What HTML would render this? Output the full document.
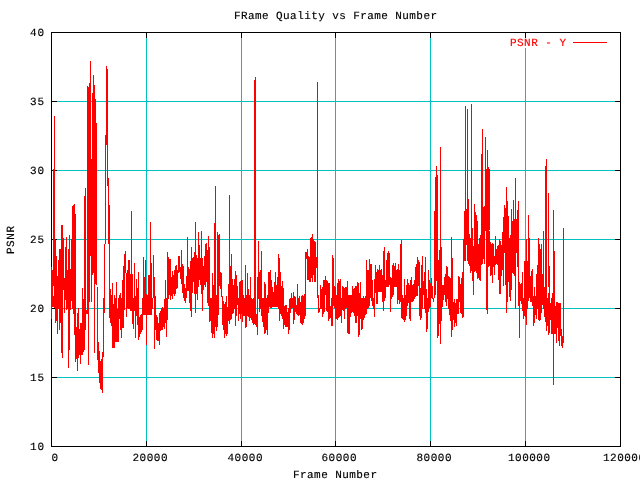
<!DOCTYPE html>
<html><head><meta charset="utf-8"><title>FRame Quality vs Frame Number</title>
<style>html,body{margin:0;padding:0;background:#fff;overflow:hidden}svg{display:block}</style></head>
<body>
<svg width="640" height="480" viewBox="0 0 640 480" shape-rendering="crispEdges">
<rect width="640" height="480" fill="#fff"/>
<path d="M52 377.5H620M52 308.5H620M52 239.5H620M52 170.5H620M52 101.5H620M146.5 33V446M241.5 33V446M335.5 33V446M430.5 33V446M525.5 33V36M525.5 48V446" stroke="#00c0c0" stroke-width="1" fill="none"/>
<path d="M51.5 32.5H620.5V446.5H51.5ZM52 377.5h5M620 377.5h-5M52 308.5h5M620 308.5h-5M52 239.5h5M620 239.5h-5M52 170.5h5M620 170.5h-5M52 101.5h5M620 101.5h-5M146.5 446v-5M146.5 33v5M241.5 446v-5M241.5 33v5M335.5 446v-5M335.5 33v5M430.5 446v-5M430.5 33v5M525.5 446v-5M525.5 33v5" stroke="#000" stroke-width="1" fill="none"/>
<path d="M51.5 267V319M52.5 270V307M53.5 169V286M53.5 296V307M54.5 116V308M55.5 240V323M56.5 256V321M57.5 276V334M58.5 260V309M59.5 249V330M60.5 249V323M61.5 225V353M62.5 225V358M63.5 238V290M64.5 278V313M65.5 247V300M66.5 237V310M67.5 270V309M68.5 249V368M69.5 235V350M70.5 269V310M71.5 239V301M72.5 206V309M73.5 205V314M74.5 204V335M75.5 214V362M76.5 327V359M77.5 313V371M78.5 308V358M79.5 329V355M80.5 323V364M81.5 323V355M82.5 288V355M83.5 299V352M84.5 196V350M85.5 188V330M86.5 310V314M87.5 86V314M88.5 87V365M89.5 83V302M90.5 61V256M91.5 159V302M92.5 93V275M93.5 75V273M94.5 85V353M95.5 99V284M96.5 123V285M97.5 287V360M98.5 342V373M99.5 351V383M100.5 361V389M101.5 359V390M102.5 352V393M103.5 298V357M104.5 244V313M105.5 135V244M106.5 66V145M107.5 69V186M108.5 178V244M109.5 205V318M110.5 289V323M111.5 295V326M112.5 283V348M113.5 304V348M114.5 295V348M115.5 298V342M116.5 282V342M117.5 309V342M118.5 298V342M119.5 295V319M120.5 293V330M121.5 298V338M122.5 280V328M123.5 266V328M124.5 254V310M125.5 251V273M126.5 273V317M127.5 270V308M128.5 260V309M129.5 260V309M130.5 274V311M131.5 211V311M132.5 274V324M133.5 298V329M134.5 263V311M135.5 296V338M136.5 279V316M137.5 288V325M138.5 272V340M139.5 317V337M140.5 315V334M141.5 314V332M142.5 298V330M143.5 257V315M144.5 277V315M145.5 260V315M146.5 294V345M147.5 295V315M148.5 275V315M149.5 275V315M150.5 222V315M151.5 263V315M152.5 298V309M153.5 255V298M154.5 277V349M155.5 296V330M156.5 315V340M157.5 317V341M158.5 323V341M159.5 313V345M160.5 311V331M161.5 308V330M162.5 307V330M163.5 308V327M164.5 299V329M165.5 280V323M166.5 298V337M167.5 252V320M168.5 257V299M169.5 259V295M170.5 259V300M171.5 277V296M172.5 271V299M173.5 275V294M174.5 270V296M175.5 266V294M176.5 265V289M177.5 270V288M178.5 256V273M179.5 256V272M180.5 267V279M181.5 250V284M182.5 264V293M183.5 266V298M184.5 284V301M185.5 288V303M186.5 276V298M187.5 237V291M188.5 267V291M189.5 269V303M190.5 261V311M191.5 247V317M192.5 258V293M193.5 257V282M194.5 252V294M195.5 222V313M196.5 255V294M197.5 258V300M198.5 232V287M199.5 245V280M200.5 258V285M201.5 231V294M202.5 258V311M203.5 266V290M204.5 256V285M205.5 244V287M206.5 243V282M207.5 250V303M208.5 236V306M209.5 247V322M210.5 298V321M211.5 298V333M212.5 273V338M213.5 285V334M214.5 223V338M215.5 186V327M216.5 295V331M217.5 232V327M218.5 235V315M219.5 234V286M220.5 272V289M221.5 273V297M222.5 296V325M223.5 301V330M224.5 304V338M225.5 302V334M226.5 296V336M227.5 307V334M228.5 284V321M229.5 195V324M230.5 266V320M231.5 254V319M232.5 279V314M233.5 285V313M234.5 279V309M235.5 271V326M236.5 275V316M237.5 286V305M238.5 298V321M239.5 282V314M240.5 281V319M241.5 280V314M242.5 280V322M243.5 295V316M244.5 298V316M245.5 265V328M246.5 295V327M247.5 273V316M248.5 289V317M249.5 295V321M250.5 277V318M251.5 298V320M252.5 299V323M253.5 298V325M254.5 80V324M255.5 77V325M256.5 314V327M257.5 277V335M258.5 241V299M259.5 272V312M260.5 270V309M261.5 251V316M262.5 298V322M263.5 298V327M264.5 282V334M265.5 284V333M266.5 298V330M267.5 295V335M268.5 272V313M269.5 272V307M270.5 270V308M271.5 280V308M272.5 287V307M273.5 292V307M274.5 282V307M275.5 272V307M276.5 285V307M277.5 277V307M278.5 254V309M279.5 258V321M280.5 272V314M281.5 286V316M282.5 281V319M283.5 288V329M284.5 306V325M285.5 305V327M286.5 305V327M287.5 312V327M288.5 308V334M289.5 299V330M290.5 298V313M291.5 293V309M292.5 298V308M293.5 292V324M294.5 296V320M295.5 297V312M296.5 305V314M297.5 284V315M298.5 298V316M299.5 296V315M300.5 302V323M301.5 296V324M302.5 295V325M303.5 296V323M304.5 294V319M305.5 252V316M306.5 252V259M307.5 249V280M308.5 256V280M309.5 257V282M310.5 238V282M311.5 237V278M312.5 234V282M313.5 239V275M314.5 241V282M315.5 242V282M316.5 257V268M317.5 82V298M318.5 295V313M319.5 308V312M320.5 285V309M321.5 289V309M322.5 287V317M323.5 280V314M324.5 280V312M325.5 276V295M326.5 280V311M327.5 281V312M328.5 283V321M329.5 283V319M330.5 306V318M331.5 298V326M332.5 255V326M333.5 258V306M334.5 286V308M335.5 287V319M336.5 295V319M337.5 283V320M338.5 279V318M339.5 281V317M340.5 279V316M341.5 298V323M342.5 286V310M343.5 287V311M344.5 288V319M345.5 287V309M346.5 287V308M347.5 281V333M348.5 295V334M349.5 295V334M350.5 295V317M351.5 295V313M352.5 286V312M353.5 289V313M354.5 288V316M355.5 286V323M356.5 286V323M357.5 282V316M358.5 283V337M359.5 293V335M360.5 282V319M361.5 298V330M362.5 298V329M363.5 296V320M364.5 298V318M365.5 296V315M366.5 260V314M367.5 270V309M368.5 270V308M369.5 259V306M370.5 264V298M371.5 264V301M372.5 280V306M373.5 298V309M374.5 279V317M375.5 265V293M376.5 272V304M377.5 269V304M378.5 270V292M379.5 265V292M380.5 270V292M381.5 269V292M382.5 275V302M383.5 251V311M384.5 247V301M385.5 280V298M386.5 260V287M387.5 253V287M388.5 251V287M389.5 253V285M390.5 277V312M391.5 278V299M392.5 265V297M393.5 263V295M394.5 266V287M395.5 263V287M396.5 270V287M397.5 269V304M398.5 264V300M399.5 270V304M400.5 244V302M401.5 240V318M402.5 295V319M403.5 298V320M404.5 279V322M405.5 295V320M406.5 285V316M407.5 279V306M408.5 283V303M409.5 285V319M410.5 280V321M411.5 277V302M412.5 285V302M413.5 284V301M414.5 280V299M415.5 267V297M416.5 264V296M417.5 257V296M418.5 260V286M419.5 262V316M420.5 288V320M421.5 265V318M422.5 256V309M423.5 281V295M424.5 272V309M425.5 257V313M426.5 289V332M427.5 298V329M428.5 270V312M429.5 280V308M430.5 283V307M431.5 278V298M432.5 286V299M433.5 298V302M434.5 211V298M435.5 177V295M436.5 166V281M437.5 175V338M438.5 260V336M439.5 250V324M440.5 147V344M441.5 247V321M442.5 285V307M443.5 285V300M444.5 277V295M445.5 274V302M446.5 266V306M447.5 267V299M448.5 276V309M449.5 277V315M450.5 278V321M451.5 237V337M452.5 258V330M453.5 302V320M454.5 299V327M455.5 303V323M456.5 299V326M457.5 299V314M458.5 276V314M459.5 277V302M460.5 284V313M461.5 278V314M462.5 272V318M463.5 239V317M464.5 211V261M465.5 106V261M466.5 209V245M467.5 109V261M468.5 199V264M469.5 234V266M470.5 238V273M471.5 104V271M472.5 228V281M473.5 246V295M474.5 204V272M475.5 212V271M476.5 215V273M477.5 221V279M478.5 244V278M479.5 238V280M480.5 235V281M481.5 154V265M482.5 129V264M483.5 207V259M484.5 206V264M485.5 137V231M486.5 169V310M487.5 150V314M488.5 167V267M489.5 169V230M489.5 231V266M490.5 242V276M491.5 244V275M492.5 243V283M493.5 244V267M494.5 256V275M495.5 236V265M496.5 249V264M497.5 246V265M498.5 245V280M499.5 239V294M500.5 241V294M501.5 245V276M502.5 232V270M503.5 217V286M504.5 205V253M505.5 208V285M506.5 187V313M507.5 201V302M508.5 216V282M509.5 238V297M510.5 235V301M511.5 209V290M512.5 221V273M513.5 200V274M514.5 219V276M515.5 178V309M516.5 219V253M517.5 210V267M518.5 201V306M519.5 282V338M520.5 284V301M521.5 283V304M522.5 272V311M523.5 298V319M524.5 261V316M525.5 261V317M526.5 239V325M527.5 261V309M528.5 215V301M529.5 238V298M530.5 276V302M531.5 271V302M532.5 269V306M533.5 296V326M534.5 287V323M535.5 296V315M536.5 274V319M537.5 265V309M538.5 238V320M539.5 244V321M540.5 249V320M541.5 244V313M542.5 274V305M543.5 231V309M544.5 287V317M545.5 166V322M546.5 159V331M547.5 298V326M548.5 193V287M548.5 293V335M549.5 266V333M550.5 303V320M551.5 298V334M552.5 293V334M553.5 210V385M554.5 251V334M555.5 306V334M556.5 302V343M557.5 302V328M558.5 303V341M559.5 303V346M560.5 303V336M561.5 329V346M562.5 336V348M563.5 228V343" stroke="#f00" stroke-width="1" fill="none"/>
<path d="M573 42.5H607" stroke="#f00" stroke-width="1"/>
<g font-family="'Liberation Mono',monospace" font-size="11px" fill="#000" stroke="#000" stroke-width="0.15" shape-rendering="auto" text-rendering="geometricPrecision">
<text x="234" y="19" textLength="203" lengthAdjust="spacing">FRame Quality vs Frame Number</text>
<text x="293" y="478" textLength="84" lengthAdjust="spacing">Frame Number</text>
<text x="510" y="46" textLength="56" lengthAdjust="spacing" fill="#f00" stroke="#f00">PSNR - Y</text>
<text transform="translate(14 254) rotate(-90)" textLength="28" lengthAdjust="spacing">PSNR</text>
<text x="44" y="450" text-anchor="end" textLength="14" lengthAdjust="spacing">10</text>
<text x="44" y="381" text-anchor="end" textLength="14" lengthAdjust="spacing">15</text>
<text x="44" y="312" text-anchor="end" textLength="14" lengthAdjust="spacing">20</text>
<text x="44" y="243" text-anchor="end" textLength="14" lengthAdjust="spacing">25</text>
<text x="44" y="174" text-anchor="end" textLength="14" lengthAdjust="spacing">30</text>
<text x="44" y="105" text-anchor="end" textLength="14" lengthAdjust="spacing">35</text>
<text x="44" y="36" text-anchor="end" textLength="14" lengthAdjust="spacing">40</text>
<text x="51.5" y="461" textLength="7" lengthAdjust="spacing">0</text>
<text x="132.5" y="461" textLength="35" lengthAdjust="spacing">20000</text>
<text x="227.5" y="461" textLength="35" lengthAdjust="spacing">40000</text>
<text x="321.5" y="461" textLength="35" lengthAdjust="spacing">60000</text>
<text x="416.5" y="461" textLength="35" lengthAdjust="spacing">80000</text>
<text x="508.0" y="461" textLength="42" lengthAdjust="spacing">100000</text>
<text x="603.0" y="461" textLength="42" lengthAdjust="spacing">120000</text>
</g>
</svg>
</body></html>
